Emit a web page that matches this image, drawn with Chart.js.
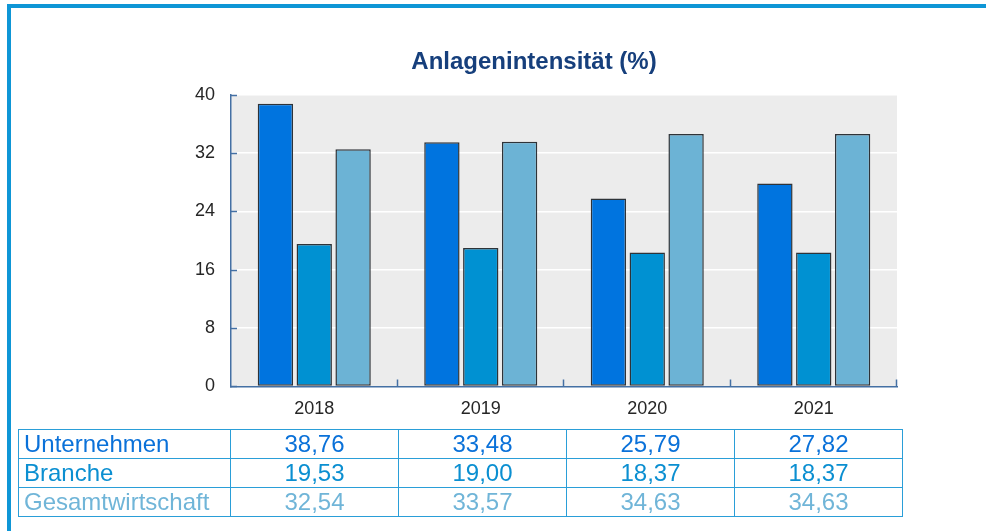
<!DOCTYPE html>
<html lang="de">
<head>
  <meta charset="UTF-8">
  <title>Anlagenintensität</title>
  <script src="https://cdn.jsdelivr.net/npm/chart.js"></script>
  <style>
    html, body { margin: 0; padding: 0; background: #fff; }
    body { width: 986px; height: 531px; position: relative; overflow: hidden; font-family: "Liberation Sans", Arial, sans-serif; }
    .frame { position: absolute; left: 7px; top: 4px; right: 0; bottom: 0; border-top: 4px solid #0e96d6; border-left: 4px solid #0e96d6; }
    .chart-box { position: absolute; left: 0; top: 0; width: 986px; height: 436px; }
    table.werte { position: absolute; left: 18px; top: 429px; border-collapse: collapse; font-size: 24px; }
    table.werte td { border: 1.5px solid #2a9ed8; height: 28px; padding: 0; line-height: 28px; text-align: center; width: 167px; }
    table.werte td.name { text-align: left; padding-left: 5px; width: 206px; }
  </style>
</head>

<body>
  <div class="frame"></div>
  <div class="chart-box"><canvas id="anlagenChart"></canvas></div>
  <table class="werte" id="werteTabelle"></table>

  <script>
    // Daten aus der Vorlage
    const jahre = ['2018', '2019', '2020', '2021'];
    const unternehmen = [38.76, 33.48, 25.79, 27.82];
    const branche = [19.53, 19.00, 18.37, 18.37];
    const gesamtwirtschaft = [32.54, 33.57, 34.63, 34.63];
    const yTicks = [0, 8, 16, 24, 32, 40];

    const serien = [
      { name: 'Unternehmen', werte: unternehmen, farbe: '#0074df', text: '#0a71d9' },
      { name: 'Branche', werte: branche, farbe: '#0091d2', text: '#0b8fd1' },
      { name: 'Gesamtwirtschaft', werte: gesamtwirtschaft, farbe: '#6cb3d5', text: '#70b5d8' }
    ];

    const schrift = '"Liberation Sans", Arial, sans-serif';
    const achsenFarbe = '#4470a4';

    // Tabelle unter dem Diagramm
    const tabelle = document.getElementById('werteTabelle');
    serien.forEach(function(s) {
      const tr = document.createElement('tr');
      const tdName = document.createElement('td');
      tdName.className = 'name';
      tdName.textContent = s.name;
      tdName.style.color = s.text;
      tr.appendChild(tdName);
      s.werte.forEach(function(v) {
        const td = document.createElement('td');
        td.textContent = v.toFixed(2).replace('.', ',');
        td.style.color = s.text;
        tr.appendChild(td);
      });
      tabelle.appendChild(tr);
    });

    // grauer Hintergrund und nach innen zeigende Striche
    const plotFlaeche = {
      id: 'plotFlaeche',
      beforeDraw: function(chart) {
        const a = chart.chartArea;
        const ctx = chart.ctx;
        ctx.save();
        ctx.fillStyle = '#ececec';
        ctx.fillRect(a.left, a.top, a.right - a.left, a.bottom - a.top);
        ctx.restore();
      },
      afterDraw: function(chart) {
        const a = chart.chartArea;
        const ctx = chart.ctx;
        const y = chart.scales.y;
        const x = chart.scales.x;
        ctx.save();
        ctx.strokeStyle = achsenFarbe;
        ctx.lineWidth = 1.5;
        ctx.beginPath();
        yTicks.forEach(function(t) {
          const py = Math.round(y.getPixelForValue(t)) + 0.5;
          ctx.moveTo(a.left, py);
          ctx.lineTo(a.left + 6, py);
        });
        for (let i = 1; i <= jahre.length; i++) {
          const px = Math.round(x.left + i * (x.width / jahre.length)) - 0.5;
          ctx.moveTo(px, a.bottom);
          ctx.lineTo(px, a.bottom - 7);
        }
        ctx.stroke();
        ctx.restore();
      }
    };

    const ctx = document.getElementById('anlagenChart').getContext('2d');
    new Chart(ctx, {
      type: 'bar',
      data: {
        labels: jahre,
        datasets: serien.map(function(s) {
          return {
            label: s.name,
            data: s.werte,
            backgroundColor: s.farbe,
            borderColor: '#2e3338',
            borderWidth: 1.5,
            borderSkipped: false
          };
        })
      },
      options: {
        responsive: true,
        maintainAspectRatio: false,
        animation: false,
        barPercentage: 0.91,
        categoryPercentage: 0.7,
        layout: {
          padding: { left: 171, right: 89, top: 0, bottom: 4 }
        },
        plugins: {
          legend: { display: false },
          tooltip: { enabled: false },
          title: {
            display: true,
            text: 'Anlagenintensität (%)',
            color: '#163f7c',
            font: { family: schrift, size: 24, weight: 'bold', lineHeight: 1.2 },
            padding: { top: 48, bottom: 18 }
          }
        },
        scales: {
          y: {
            min: 0,
            max: 40,
            afterFit: function(scale) { scale.width = 60; },
            afterBuildTicks: function(scale) {
              scale.ticks = yTicks.map(function(v) { return { value: v }; });
            },
            grid: {
              color: '#ffffff',
              lineWidth: 1.5,
              drawTicks: false
            },
            border: { display: true, color: achsenFarbe, width: 1.5 },
            ticks: {
              color: '#262626',
              font: { family: schrift, size: 18 },
              padding: 16
            }
          },
          x: {
            grid: { display: false, drawTicks: false },
            border: { display: true, color: achsenFarbe, width: 1.5 },
            ticks: {
              color: '#262626',
              font: { family: schrift, size: 18 },
              padding: 12
            }
          }
        }
      },
      plugins: [plotFlaeche]
    });
  </script>
</body>
</html>
